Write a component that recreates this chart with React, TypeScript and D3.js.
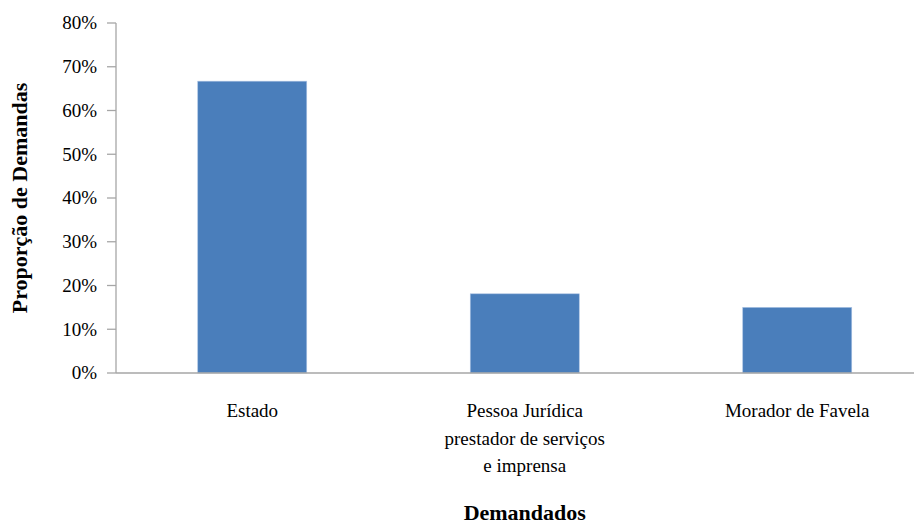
import React from "react";
import * as d3 from "d3";

const categories: string[][] = [
  ["Estado"],
  ["Pessoa Jurídica", "prestador de serviços", "e imprensa"],
  ["Morador de Favela"],
];
const values: number[] = [0.667, 0.181, 0.15];
const yTicks: number[] = [0, 0.1, 0.2, 0.3, 0.4, 0.5, 0.6, 0.7, 0.8];
const yTitle = "Proporção de Demandas";
const xTitle = "Demandados";

const W = 914;
const H = 532;
const FONT = "Liberation Serif";

export default function App() {
  const margin = { left: 116, top: 23, bottom: 159 };
  const x = d3
    .scaleBand<number>()
    .domain(categories.map((_, i) => i))
    .range([margin.left, margin.left + 3 * 272.5])
    .paddingInner(0.6)
    .paddingOuter(0.3);
  const y = d3.scaleLinear().domain([0, 0.8]).range([H - margin.bottom, margin.top]);
  const fmt = d3.format(".0%");
  const y0 = y(0);
  const ts = { fontFamily: FONT };

  return (
    <svg
      width={W}
      height={H}
      style={{ position: "absolute", left: 0, top: 0, background: "#fff" }}
    >
      {values.map((v, i) => (
        <rect
          key={i}
          x={x(i)!}
          y={y(v)}
          width={x.bandwidth()}
          height={y0 - y(v)}
          fill="#4a7ebb"
          stroke="#a9c1e3"
          strokeWidth={0.6}
        />
      ))}
      <line x1={margin.left} x2={margin.left} y1={y(0.8)} y2={y0} stroke="#a6a6a6" strokeWidth={1.3} />
      {yTicks.map((t) => (
        <g key={t}>
          <line x1={margin.left - 9} x2={margin.left} y1={y(t)} y2={y(t)} stroke="#a6a6a6" strokeWidth={1.3} />
          <text x={97} y={y(t)} dy="0.34em" textAnchor="end" fontSize={19} style={ts}>
            {fmt(t)}
          </text>
        </g>
      ))}
      <line x1={margin.left} x2={W} y1={y0} y2={y0} stroke="#a6a6a6" strokeWidth={1.5} />
      {categories.map((lines, i) =>
        lines.map((l, j) => (
          <text
            key={`${i}-${j}`}
            x={x(i)! + x.bandwidth() / 2}
            y={417 + j * 27.5}
            textAnchor="middle"
            fontSize={19}
            style={ts}
          >
            {l}
          </text>
        ))
      )}
      <text
        x={x(1)! + x.bandwidth() / 2}
        y={520}
        textAnchor="middle"
        fontSize={22}
        fontWeight="bold"
        style={ts}
      >
        {xTitle}
      </text>
      <text
        transform={`translate(27, ${(y(0) + y(0.8)) / 2}) rotate(-90)`}
        textAnchor="middle"
        fontSize={22}
        fontWeight="bold"
        style={ts}
      >
        {yTitle}
      </text>
    </svg>
  );
}
